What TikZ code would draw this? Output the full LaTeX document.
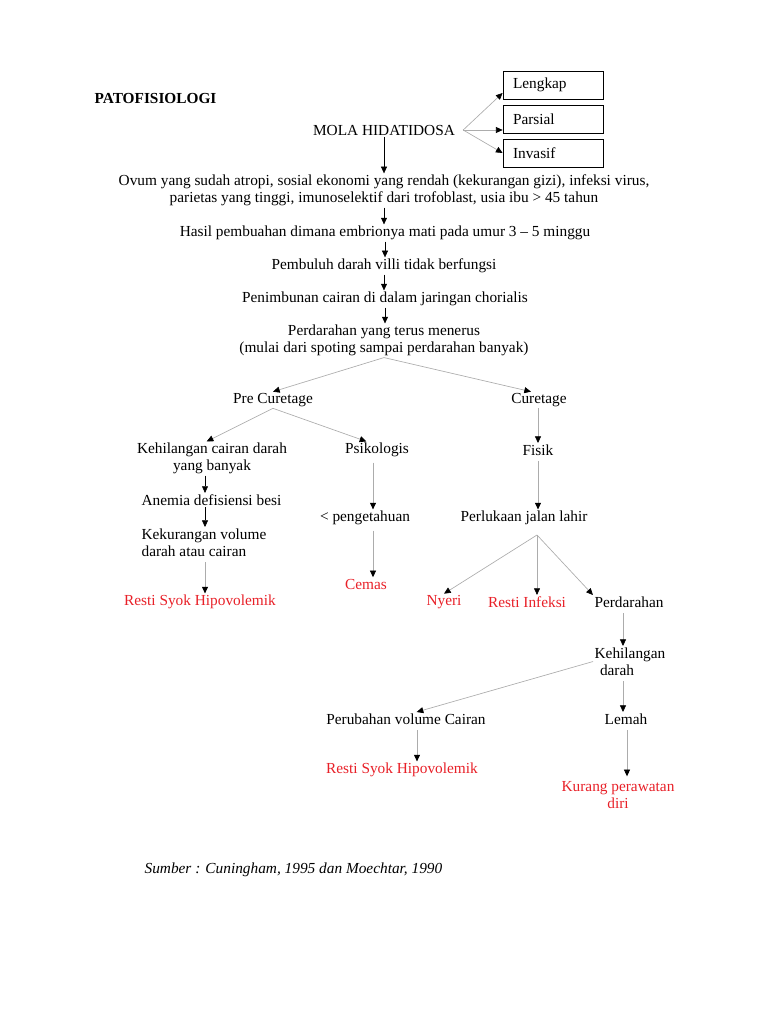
\documentclass[tikz,border=0pt]{standalone}
\usepackage{fontspec}
\setmainfont{Liberation Serif}
\usepackage{tikz}
\usetikzlibrary{positioning, arrows.meta}

\definecolor{riskred}{RGB}{232,32,40}
\newcommand{\diafont}{\fontsize{11.5}{12.75}\selectfont}

\tikzset{
    txt/.style={inner sep=1pt, font=\diafont, align=center, yshift=-1.5pt},
    risk/.style={txt, text=riskred},
    box/.style={txt, draw, line width=0.6pt, minimum height=21pt,
        text width=60pt, inner xsep=7.5pt, align=left, yshift=1.5pt},
    arr/.style={-{Triangle[length=5pt,width=4.5pt]}, black, line width=0.4pt},
    garr/.style={-{Triangle[length=5pt,width=4.5pt,black]}, draw=gray!65, line width=0.5pt}
}

\begin{document}
\begin{tikzpicture}[x=0.75pt, y=-0.75pt]
    \useasboundingbox (0,0) rectangle (768,1024);

    % Title
    \node[txt, anchor=west, font=\diafont\bfseries] (title) at (93,96) {PATOFISIOLOGI};

    % Mola and its types
    \node[txt] (mola) at (384,128) {MOLA HIDATIDOSA};
    \node[box] (lengkap) at (553,85) {Lengkap};
    \node[box] (parsial) at (553,119) {Parsial};
    \node[box] (invasif) at (553,153) {Invasif};
    \coordinate (mfork) at ([xshift=5pt]mola.east);
    \draw[garr] (mfork) -- ([yshift=-6pt]lengkap.west);
    \draw[garr] (mfork) -- (mfork -| parsial.west);
    \draw[garr] (mfork) -- (invasif.west);

    % Main column
    \node[txt] (ovum) at (384,188.5) {Ovum yang sudah atropi, sosial ekonomi yang rendah (kekurangan gizi), infeksi virus,\\parietas yang tinggi, imunoselektif dari trofoblast, usia ibu > 45 tahun};
    \node[txt] (hasil) at (385,231) {Hasil pembuahan dimana embrionya mati pada umur 3 -- 5 minggu};
    \node[txt] (pembuluh) at (384,264) {Pembuluh darah villi tidak berfungsi};
    \node[txt] (penimbunan) at (385,297) {Penimbunan cairan di dalam jaringan chorialis};
    \node[txt] (perdarahan) at (384,338.5) {Perdarahan yang terus menerus\\(mulai dari spoting sampai perdarahan banyak)};
    \draw[arr] (mola.south) -- (mola.south |- ovum.north);
    \draw[arr] (ovum.south) -- (ovum.south |- hasil.north);
    \draw[arr] (hasil.south) -- (hasil.south |- pembuluh.north);
    \draw[arr] (pembuluh.south) -- (pembuluh.south |- penimbunan.north);
    \draw[arr] (penimbunan.south) -- (penimbunan.south |- perdarahan.north);

    % Pre curetage / curetage
    \node[txt] (pre) at (273,398) {Pre Curetage};
    \node[txt] (cur) at (539,398) {Curetage};
    \draw[garr] (perdarahan.south) -- (pre.north);
    \draw[garr] (perdarahan.south) -- ([xshift=-6pt]cur.north);

    \node[txt] (kehil) at (212,456.5) {Kehilangan cairan darah\\yang banyak};
    \node[txt] (psiko) at (377,448) {Psikologis};
    \node[txt] (fisik) at (538,448) {Fisik};
    \draw[garr] (pre.south) -- ([xshift=-4pt]kehil.north);
    \draw[garr] (pre.south) -- ([xshift=-8pt]psiko.north);
    \draw[garr] (cur.south -| fisik.north) -- (fisik.north);

    % Left column
    \coordinate (lcol) at (205,0);
    \node[txt, anchor=west] (anemia) at (140,498) {Anemia defisiensi besi};
    \node[txt, anchor=west, align=left] (kekur) at (140,540.5) {Kekurangan volume\\darah atau cairan};
    \node[risk] (syok1) at (200,600) {Resti Syok Hipovolemik};
    \draw[arr] (kehil.south -| lcol) -- (anemia.north -| lcol);
    \draw[arr] (anemia.south -| lcol) -- (kekur.north -| lcol);
    \draw[garr] ([yshift=-3pt]kekur.south -| lcol) -- (syok1.north -| lcol);

    % Middle column
    \coordinate (mcol) at (373,0);
    \node[txt] (penget) at (365,516) {< pengetahuan};
    \node[risk] (cemas) at (366,582) {Cemas};
    \draw[garr] ([yshift=-3pt]psiko.south -| mcol) -- (penget.north -| mcol);
    \draw[garr] ([yshift=-3pt]penget.south -| mcol) -- (cemas.north -| mcol);

    % Right column
    \node[txt] (perluk) at (524,516) {Perlukaan jalan lahir};
    \draw[garr] ([yshift=-3pt]fisik.south) -- (fisik.south |- perluk.north);
    \coordinate (pfork) at (537,535);
    \node[risk] (nyeri) at (444,600) {Nyeri};
    \node[risk] (infeksi) at (527,600) {Resti Infeksi};
    \node[txt] (pdarah) at (629,600) {Perdarahan};
    \draw[garr] (pfork) -- (nyeri.north);
    \draw[garr] (pfork) -- (pfork |- infeksi.north);
    \draw[garr] (pfork) -- (pdarah.north west);

    \coordinate (rcol) at (623,0);
    \node[txt, align=left] (kdarah) at (630,659.5) {Kehilangan\\\hspace*{4pt}darah};
    \node[txt] (perub) at (406,717) {Perubahan volume Cairan};
    \node[txt] (lemah) at (626,717) {Lemah};
    \draw[garr] ([yshift=-3pt]pdarah.south -| rcol) -- (kdarah.north -| rcol);
    \draw[garr] (kdarah.west) -- ([xshift=8pt]perub.north);
    \draw[garr] ([yshift=-3pt]kdarah.south -| rcol) -- (lemah.north -| rcol);

    \coordinate (pcol) at (417,0);
    \coordinate (wcol) at (627,0);
    \node[risk] (syok2) at (402,768) {Resti Syok Hipovolemik};
    \node[risk] (kurang) at (618,793.5) {Kurang perawatan\\diri};
    \draw[garr] ([yshift=-3pt]perub.south -| pcol) -- (syok2.north -| pcol);
    \draw[garr] ([yshift=-3pt]lemah.south -| wcol) -- ([yshift=3pt]kurang.north -| wcol);

    % Source
    \node[txt, anchor=west, font=\diafont\itshape] (sumber) at (143,868) {Sumber : Cuningham, 1995 dan Moechtar, 1990};
\end{tikzpicture}
\end{document}
